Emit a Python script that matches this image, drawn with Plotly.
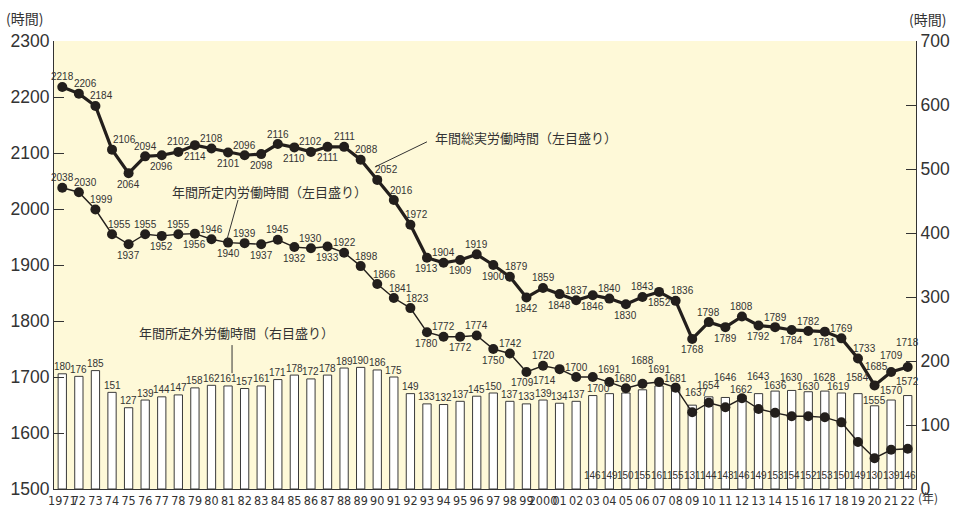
import plotly.graph_objects as go

years = list(range(1971, 2023))
tick_labels = ["1971", "72", "73", "74", "75", "76", "77", "78", "79", "80",
               "81", "82", "83", "84", "85", "86", "87", "88", "89", "90",
               "91", "92", "93", "94", "95", "96", "97", "98", "99", "2000",
               "01", "02", "03", "04", "05", "06", "07", "08", "09", "10",
               "11", "12", "13", "14", "15", "16", "17", "18", "19", "20",
               "21", "22"]

total_hours = [2218, 2206, 2184, 2106, 2064, 2094, 2096, 2102, 2114, 2108,
               2101, 2096, 2098, 2116, 2110, 2102, 2111, 2111, 2088, 2052,
               2016, 1972, 1913, 1904, 1909, 1919, 1900, 1879, 1842, 1859,
               1848, 1837, 1846, 1840, 1830, 1843, 1852, 1836, 1768, 1798,
               1789, 1808, 1792, 1789, 1784, 1782, 1781, 1769, 1733, 1685,
               1709, 1718]

scheduled_hours = [2038, 2030, 1999, 1955, 1937, 1955, 1952, 1955, 1956, 1946,
                   1940, 1939, 1937, 1945, 1932, 1930, 1933, 1922, 1898, 1866,
                   1841, 1823, 1780, 1772, 1772, 1774, 1750, 1742, 1709, 1720,
                   1714, 1700, 1700, 1691, 1680, 1688, 1691, 1681, 1637, 1654,
                   1646, 1662, 1643, 1636, 1630, 1630, 1628, 1619, 1584, 1555,
                   1570, 1572]

overtime_hours = [180, 176, 185, 151, 127, 139, 144, 147, 158, 162,
                  161, 157, 161, 171, 178, 172, 178, 189, 190, 186,
                  175, 149, 133, 132, 137, 145, 150, 137, 133, 139,
                  134, 137, 146, 149, 150, 155, 161, 155, 131, 144,
                  143, 146, 149, 153, 154, 152, 153, 150, 149, 130,
                  139, 146]

name_total = "年間総実労働時間（左目盛り）"
name_sched = "年間所定内労働時間（左目盛り）"
name_over = "年間所定外労働時間（右目盛り）"

# ---- label placement styles (pixel offsets) ----
A, B = 10, -11
total_dx = [0, 7, 6, 12, 0, 0, 0, 0, 0, 0, 0, 0, 0, 0, 0, 0, 0, 0, 6, 9,
            8, 6, 0, 0, 0, 0, 0, 7, 0, 0, 0, 0, 0, 0, 0, 0, 0, 7, 0, 0,
            0, 0, 0, 0, 0, 0, 0, 0, 7, 2, 0, 0]
total_dy = [A, A, A, A, B, A, B, A, B, A, B, A, B, A, B, A, B, A, A, A,
            A, A, B, A, B, A, B, A, B, A, B, A, B, A, B, A, B, A, B, A,
            B, A, B, A, B, A, B, A, A, 19, 16, 24]
sched_dx = [0, 7, 6, 7, 0, 0, 0, 0, 0, 0, 0, 0, 0, 0, 0, 0, 0, 0, 6, 7,
            7, 7, 0, 0, 0, 0, 0, 1, -4, 0, -15, 0, 6, 0, 0, 0, 0, 0, 4, 0,
            0, 0, 0, 0, 0, 0, 0, -3, 0, 0, 0, 0]
sched_dy = [A, A, A, A, B, A, B, A, B, A, B, A, B, A, B, A, B, A, A, A,
            A, A, B, A, B, A, B, A, B, A, B, A, B, 13, 10, 23, 13, 9, 20, 17,
            30, 9, 32, 27, 39, 30, 40, 36, 64, 58, 59, 67]
N_TOP = 32  # bars whose labels sit above the bar

ink = "#231f1c"
num_font = dict(family="Liberation Sans, Arial, sans-serif", size=10, color="#333")
jp_font = "Noto Sans CJK JP, sans-serif"

fig = go.Figure()

fig.add_trace(go.Bar(
    x=years, y=overtime_hours, yaxis="y", width=0.5,
    marker=dict(color="white", line=dict(color="#3a3a3a", width=1)),
    name=name_over, showlegend=False, hoverinfo="x+y",
))

fig.add_trace(go.Scatter(
    x=years, y=scheduled_hours, yaxis="y2", mode="lines+markers",
    line=dict(color=ink, width=1.4), marker=dict(color=ink, size=10),
    name=name_sched, showlegend=False, cliponaxis=False,
))

fig.add_trace(go.Scatter(
    x=years, y=total_hours, yaxis="y2", mode="lines+markers",
    line=dict(color=ink, width=3.2), marker=dict(color=ink, size=10),
    name=name_total, showlegend=False, cliponaxis=False,
))

ann = []
for i, yr in enumerate(years):
    ann.append(dict(x=yr, y=total_hours[i], xref="x", yref="y2", text=str(total_hours[i]),
                    showarrow=False, xshift=total_dx[i], yshift=total_dy[i], font=num_font))
    ann.append(dict(x=yr, y=scheduled_hours[i], xref="x", yref="y2", text=str(scheduled_hours[i]),
                    showarrow=False, xshift=sched_dx[i], yshift=sched_dy[i], font=num_font))
    if i < N_TOP:
        ann.append(dict(x=yr, y=overtime_hours[i], xref="x", yref="y", text=str(overtime_hours[i]),
                        showarrow=False, yshift=7, font=num_font))
    else:
        ann.append(dict(x=yr, y=0, xref="x", yref="y", text=str(overtime_hours[i]),
                        showarrow=False, yshift=14, font=num_font))

# series names
ann.append(dict(x=1993.35, y=2127, xref="x", yref="y2", text=name_total, showarrow=False,
                xanchor="left", font=dict(family=jp_font, size=13, color="#333")))
ann.append(dict(x=1977.5, y=2032, xref="x", yref="y2", text=name_sched, showarrow=False,
                xanchor="left", font=dict(family=jp_font, size=13, color="#333")))
ann.append(dict(x=1975.5, y=1779, xref="x", yref="y2", text=name_over, showarrow=False,
                xanchor="left", font=dict(family=jp_font, size=13, color="#333")))

# axis unit labels
ann.append(dict(x=0, y=1, xref="paper", yref="paper", xshift=-50, yshift=23, text="(時間)",
                showarrow=False, xanchor="left", yanchor="middle",
                font=dict(family=jp_font, size=14, color="#333")))
ann.append(dict(x=1, y=1, xref="paper", yref="paper", xshift=-9, yshift=22, text="(時間)",
                showarrow=False, xanchor="left", yanchor="middle",
                font=dict(family=jp_font, size=14, color="#333")))
ann.append(dict(x=1, y=0, xref="paper", yref="paper", xshift=0, yshift=-8, text="(年)",
                showarrow=False, xanchor="left", yanchor="middle",
                font=dict(family=jp_font, size=12, color="#333")))

shapes = [
    dict(type="line", xref="x", yref="y2", x0=1993.0, y0=2120, x1=1989.86, y1=2075,
         line=dict(color="#333", width=1)),
    dict(type="line", xref="x", yref="y2", x0=1981.6, y0=2016, x1=1980.93, y1=1945,
         line=dict(color="#333", width=1)),
    dict(type="line", xref="x", yref="y2", x0=1981.24, y0=1757, x1=1981.24, y1=1707,
         line=dict(color="#333", width=1)),
]

axis_tick_font = dict(family="Liberation Sans, Arial, sans-serif", size=17.5, color="#333")

fig.update_layout(
    width=953, height=509,
    margin=dict(l=54, r=37, t=41, b=20, autoexpand=False),
    paper_bgcolor="white",
    plot_bgcolor="#fef9d8",
    bargap=0.5,
    xaxis=dict(range=[1970.5, 2022.5], tickvals=years, ticktext=tick_labels,
               ticks="", showline=True, linecolor="#333", linewidth=1,
               showgrid=False, zeroline=False, tickangle=0, automargin=False,
               tickfont=dict(family="Liberation Sans Narrow, DejaVu Sans Condensed, Arial Narrow, sans-serif",
                             size=12.5, color="#333")),
    yaxis=dict(range=[0, 700], dtick=100, side="right", ticks="inside", ticklen=10,
               tickcolor="#333", showline=True, linecolor="#333", linewidth=1,
               showgrid=False, zeroline=False, tickfont=axis_tick_font, automargin=False),
    yaxis2=dict(range=[1500, 2300], dtick=100, side="left", overlaying="y",
                ticks="inside", ticklen=10, tickcolor="#333", showline=True,
                linecolor="#333", linewidth=1, showgrid=False, zeroline=False,
                tickfont=axis_tick_font, automargin=False),
    annotations=ann,
    shapes=shapes,
    showlegend=False,
)

fig.write_html("out.html", config={"displayModeBar": False},
               post_script="document.body.style.margin='0';document.body.style.overflow='hidden';")
